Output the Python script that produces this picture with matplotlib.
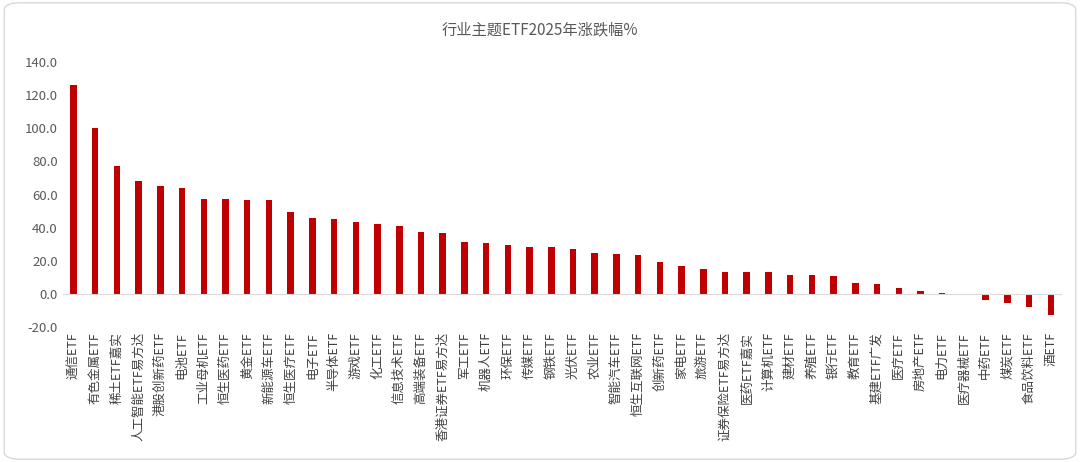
import matplotlib
matplotlib.use("Agg")
import matplotlib.pyplot as plt
from matplotlib.patches import FancyBboxPatch

plt.rcParams['font.family'] = ['Noto Sans CJK SC', 'DejaVu Sans']

categories = ["通信ETF","有色金属ETF","稀土ETF嘉实","人工智能ETF易方达","港股创新药ETF","电池ETF","工业母机ETF","恒生医药ETF","黄金ETF","新能源车ETF","恒生医疗ETF","电子ETF","半导体ETF","游戏ETF","化工ETF","信息技术ETF","高端装备ETF","香港证券ETF易方达","军工ETF","机器人ETF","环保ETF","传媒ETF","钢铁ETF","光伏ETF","农业ETF","智能汽车ETF","恒生互联网ETF","创新药ETF","家电ETF","旅游ETF","证券保险ETF易方达","医药ETF嘉实","计算机ETF","建材ETF","养殖ETF","银行ETF","教育ETF","基建ETF广发","医疗ETF","房地产ETF","电力ETF","医疗器械ETF","中药ETF","煤炭ETF","食品饮料ETF","酒ETF"]
values = [126,100,77,68,65,64,57.5,57,56.5,56.5,49.5,46,45,43.5,42.5,41,37.5,37,31.5,31,29.5,28.5,28.5,27,25,24,23.5,19,17,15,13.5,13.5,13.5,11.5,11.5,11,6.5,6,3.5,2,0.8,0,-3.5,-5.5,-8,-13]
yticks = [-20,0,20,40,60,80,100,120,140]

fig = plt.figure(figsize=(10.8,4.62), dpi=100)
fig.patches.append(FancyBboxPatch((0.004,0.006),0.992,0.988,boxstyle="round,pad=0,rounding_size=0.015",
                                  transform=fig.transFigure, fill=False, edgecolor='#d9d9d9', lw=1))
ax = fig.add_axes([0.058, 0.292, 0.925, 0.574])
x = range(len(values))
ax.bar(x, values, width=0.3, color='#c00000')
ax.set_xlim(-0.5, len(values)-0.5)
ax.set_ylim(-20, 140)
ax.set_yticks(yticks)
ax.set_yticklabels([f"{v:.1f}" for v in yticks], fontsize=9.5, color='#595959')
ax.set_xticks(list(x))
ax.set_xticklabels(categories, rotation=90, fontsize=9, color='#404040')
ax.tick_params(length=0)
ax.axhline(0, color='#d9d9d9', lw=0.8)
for s in ax.spines.values():
    s.set_visible(False)
fig.text(0.5, 0.935, "行业主题ETF2025年涨跌幅%", ha='center', va='center', fontsize=11, color='#595959')
fig.savefig("out.png", dpi=100)
